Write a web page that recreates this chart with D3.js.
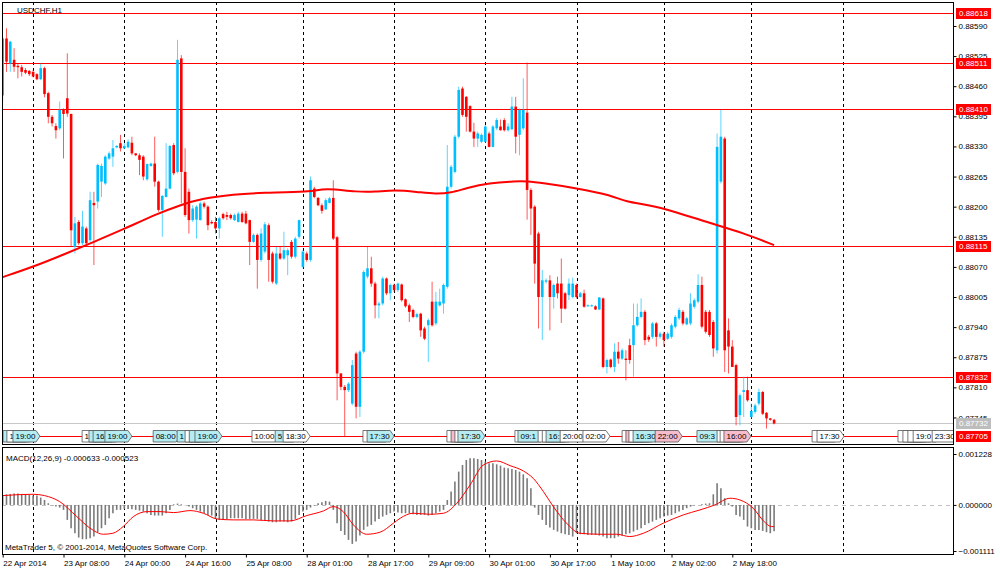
<!DOCTYPE html>
<html>
<head>
<meta charset="utf-8">
<script src="https://cdn.jsdelivr.net/npm/d3@7/dist/d3.min.js"></script>
<style>
	body { margin: 0; background: #fff; }
	svg text { font-family: "Liberation Sans", Arial, sans-serif; font-size: 8px; fill: #000; }
	line.level, line.grid, line.bid { shape-rendering: crispEdges; }
</style>
</head>
<body>
<svg id="chart" width="1000" height="574"></svg>
<script>

var symbolTitle = "USDCHF,H1";
var macdTitle = "MACD(12,26,9) -0.000633 -0.000523";
var copyright = "MetaTrader 5, \u00a9 2001-2014, MetaQuotes Software Corp.";

// hourly bars, one entry per bar (bar 0 = 22 Apr 16:00)
var opens = [
	0.88440,0.88563,0.88509,0.88517,0.88504,0.88501,0.88495,0.88493,0.88491,0.88486,
	0.88475,0.88499,0.88445,0.88394,0.88374,0.88369,0.88409,0.88434,0.88400,0.88113,
	0.88167,0.88121,0.88153,0.88128,0.88208,0.88211,0.88254,0.88250,0.88304,0.88308,
	0.88328,0.88337,0.88326,0.88328,0.88338,0.88315,0.88311,0.88308,0.88259,0.88288,
	0.88293,0.88254,0.88193,0.88221,0.88239,0.88333,0.88275,0.88520,0.88275,0.88232,
	0.88171,0.88172,0.88171,0.88207,0.88200,0.88167,0.88167,0.88153,0.88184,0.88182,
	0.88182,0.88171,0.88167,0.88185,0.88185,0.88171,0.88124,0.88139,0.88085,0.88103,
	0.88160,0.88099,0.88034,0.88099,0.88088,0.88095,0.88124,0.88092,0.88135,0.88070,
	0.88099,0.88085,0.88239,0.88219,0.88203,0.88194,0.88208,0.88219,0.88134,0.87840,
	0.87811,0.87804,0.87775,0.87883,0.87768,0.87887,0.88049,0.88067,0.88034,0.87987,
	0.87991,0.88045,0.88013,0.88031,0.88020,0.88032,0.88000,0.87987,0.87977,0.87962,
	0.87969,0.87937,0.87944,0.87995,0.87948,0.87987,0.87991,0.88027,0.88243,0.88275,
	0.88351,0.88455,0.88437,0.88417,0.88362,0.88347,0.88340,0.88340,0.88358,0.88329,
	0.88369,0.88373,0.88387,0.88365,0.88367,0.88416,0.88355,0.88369,0.88403,0.88236,
	0.88200,0.88142,0.88005,0.88038,0.88041,0.88005,0.88034,0.88034,0.88013,0.88009,
	0.88005,0.88031,0.88005,0.88013,0.87985,0.87985,0.87985,0.87978,0.88002,0.87854,
	0.87870,0.87854,0.87887,0.87872,0.87872,0.87901,0.87901,0.87944,0.87962,0.87973,
	0.87919,0.87919,0.87948,0.87919,0.87926,0.87915,0.87919,0.87941,0.87959,0.87973,
	0.87946,0.87948,0.87984,0.87995,0.88031,0.87973,0.87973,0.87951,0.87890,0.88254,
	0.88347,0.87933,0.87898,0.87858,0.87750,0.87800,0.87804,0.87746,0.87757,0.87775,
	0.87800,0.87755,0.87743,0.87740
];
var highs = [
	0.88567,0.88585,0.88558,0.88542,0.88509,0.88506,0.88499,0.88495,0.88495,0.88488,
	0.88509,0.88502,0.88448,0.88398,0.88380,0.88427,0.88412,0.88531,0.88401,0.88178,
	0.88171,0.88191,0.88157,0.88232,0.88232,0.88293,0.88293,0.88311,0.88319,0.88344,
	0.88333,0.88355,0.88337,0.88345,0.88351,0.88316,0.88315,0.88311,0.88293,0.88295,
	0.88351,0.88256,0.88225,0.88337,0.88333,0.88337,0.88560,0.88527,0.88326,0.88239,
	0.88203,0.88203,0.88211,0.88211,0.88203,0.88171,0.88178,0.88178,0.88187,0.88189,
	0.88185,0.88185,0.88189,0.88189,0.88191,0.88172,0.88142,0.88142,0.88153,0.88167,
	0.88164,0.88103,0.88113,0.88113,0.88146,0.88110,0.88128,0.88135,0.88172,0.88106,
	0.88103,0.88265,0.88243,0.88221,0.88207,0.88218,0.88221,0.88257,0.88137,0.87841,
	0.87815,0.87821,0.87869,0.87887,0.87890,0.88063,0.88113,0.88092,0.88038,0.87995,
	0.88049,0.88047,0.88034,0.88034,0.88036,0.88034,0.88002,0.87991,0.87980,0.87971,
	0.87971,0.87941,0.87959,0.88038,0.88016,0.88023,0.88034,0.88333,0.88290,0.88355,
	0.88459,0.88459,0.88439,0.88419,0.88381,0.88362,0.88358,0.88376,0.88362,0.88376,
	0.88391,0.88388,0.88391,0.88380,0.88437,0.88437,0.88412,0.88477,0.88511,0.88240,
	0.88203,0.88146,0.88063,0.88045,0.88052,0.88034,0.88049,0.88088,0.88016,0.88045,
	0.88047,0.88034,0.88016,0.88021,0.87989,0.87989,0.87987,0.88005,0.88004,0.87872,
	0.87872,0.87905,0.87908,0.87894,0.87890,0.87915,0.87991,0.87991,0.88002,0.87977,
	0.87923,0.87951,0.87951,0.87930,0.87930,0.87930,0.87948,0.87966,0.87982,0.87977,
	0.87962,0.88013,0.88002,0.88054,0.88049,0.87977,0.87977,0.87955,0.88358,0.88409,
	0.88351,0.87959,0.87912,0.87861,0.87797,0.87833,0.87833,0.87775,0.87775,0.87807,
	0.87802,0.87757,0.87744,0.87742
];
var lows = [
	0.88426,0.88491,0.88491,0.88491,0.88477,0.88481,0.88486,0.88482,0.88479,0.88473,
	0.88473,0.88436,0.88380,0.88373,0.88347,0.88365,0.88304,0.88394,0.88113,0.88099,
	0.88117,0.88117,0.88119,0.88124,0.88074,0.88196,0.88221,0.88247,0.88301,0.88286,
	0.88326,0.88319,0.88324,0.88326,0.88311,0.88309,0.88268,0.88257,0.88256,0.88286,
	0.88243,0.88189,0.88135,0.88220,0.88237,0.88268,0.88272,0.88207,0.88178,0.88142,
	0.88167,0.88131,0.88170,0.88196,0.88149,0.88162,0.88142,0.88131,0.88172,0.88171,
	0.88172,0.88169,0.88166,0.88165,0.88162,0.88074,0.88122,0.88023,0.88081,0.88099,
	0.88038,0.88034,0.88031,0.88085,0.88085,0.88052,0.88088,0.88088,0.88131,0.88067,
	0.88081,0.88081,0.88218,0.88201,0.88185,0.88193,0.88207,0.88128,0.87782,0.87804,
	0.87703,0.87800,0.87771,0.87743,0.87746,0.87883,0.88045,0.88027,0.87959,0.87959,
	0.87987,0.88009,0.87998,0.88016,0.88016,0.87995,0.87982,0.87951,0.87959,0.87959,
	0.87919,0.87912,0.87865,0.87941,0.87944,0.87984,0.87969,0.88023,0.88239,0.88272,
	0.88347,0.88394,0.88362,0.88360,0.88329,0.88329,0.88337,0.88338,0.88328,0.88328,
	0.88365,0.88364,0.88362,0.88362,0.88365,0.88315,0.88311,0.88365,0.88172,0.88139,
	0.88034,0.87937,0.87912,0.88034,0.87933,0.87980,0.88002,0.87949,0.87978,0.87998,
	0.88002,0.88002,0.88004,0.87982,0.87984,0.87984,0.87977,0.87977,0.87851,0.87840,
	0.87851,0.87843,0.87861,0.87869,0.87825,0.87861,0.87833,0.87941,0.87959,0.87901,
	0.87908,0.87915,0.87898,0.87915,0.87898,0.87912,0.87915,0.87937,0.87955,0.87944,
	0.87944,0.87944,0.87980,0.87991,0.87937,0.87926,0.87919,0.87876,0.87883,0.88250,
	0.87843,0.87840,0.87854,0.87728,0.87728,0.87746,0.87779,0.87743,0.87753,0.87771,
	0.87750,0.87721,0.87738,0.87730
];
var closes = [
	0.88563,0.88513,0.88556,0.88502,0.88501,0.88491,0.88489,0.88486,0.88481,0.88475,
	0.88499,0.88443,0.88394,0.88380,0.88365,0.88409,0.88400,0.88401,0.88149,0.88164,
	0.88121,0.88157,0.88121,0.88214,0.88203,0.88290,0.88288,0.88308,0.88315,0.88326,
	0.88331,0.88326,0.88331,0.88340,0.88315,0.88311,0.88301,0.88265,0.88292,0.88293,
	0.88254,0.88193,0.88223,0.88239,0.88331,0.88272,0.88517,0.88275,0.88182,0.88171,
	0.88196,0.88200,0.88207,0.88200,0.88160,0.88164,0.88153,0.88175,0.88175,0.88178,
	0.88175,0.88182,0.88185,0.88167,0.88164,0.88124,0.88139,0.88085,0.88142,0.88162,
	0.88085,0.88038,0.88099,0.88088,0.88106,0.88106,0.88092,0.88131,0.88171,0.88103,
	0.88085,0.88257,0.88221,0.88203,0.88191,0.88214,0.88218,0.88131,0.87840,0.87811,
	0.87804,0.87818,0.87858,0.87768,0.87887,0.88059,0.88067,0.88034,0.87987,0.87991,
	0.88045,0.88013,0.88031,0.88020,0.88034,0.87998,0.87985,0.87973,0.87962,0.87968,
	0.87933,0.87915,0.87955,0.87944,0.87995,0.87995,0.88031,0.88243,0.88286,0.88351,
	0.88452,0.88398,0.88394,0.88362,0.88347,0.88358,0.88355,0.88373,0.88329,0.88373,
	0.88387,0.88365,0.88365,0.88373,0.88416,0.88351,0.88409,0.88409,0.88236,0.88196,
	0.88077,0.88005,0.88041,0.88041,0.88005,0.88031,0.88013,0.87980,0.87980,0.88034,
	0.88034,0.88005,0.88013,0.87984,0.87987,0.87987,0.87978,0.88004,0.87854,0.87869,
	0.87854,0.87887,0.87872,0.87890,0.87869,0.87869,0.87944,0.87962,0.87973,0.87912,
	0.87913,0.87948,0.87919,0.87926,0.87912,0.87926,0.87944,0.87962,0.87977,0.87948,
	0.87959,0.87991,0.87998,0.88031,0.87941,0.87930,0.87923,0.87894,0.88329,0.88351,
	0.87890,0.87898,0.87854,0.87746,0.87793,0.87804,0.87782,0.87759,0.87771,0.87800,
	0.87753,0.87743,0.87740,0.87732
];

// moving average
var maBars = [0, 8, 17, 24, 32, 41, 47, 52, 61, 68, 81, 84, 87, 93, 98, 103, 109, 114, 118, 122,
	128, 135, 138, 142, 151, 160, 164, 170, 177, 186, 195, 203];
var maValues = [0.88048, 0.88070, 0.88100, 0.88124, 0.88152, 0.88186, 0.88204, 0.88217, 0.88227, 0.88230,
	0.88232, 0.88238, 0.88238, 0.88232, 0.88232, 0.88236, 0.88232, 0.88227, 0.88230, 0.88240,
	0.88251, 0.88255, 0.88255, 0.88251, 0.88240, 0.88225, 0.88210, 0.88204, 0.88189, 0.88165,
	0.88143, 0.88117];

var macdMain = [
	0.000240,0.000257,0.000265,0.000273,0.000273,0.000265,0.000257,0.000240,0.000225,0.000225,
	0.000177,0.000120,0.000040,-0.000005,-0.000040,-0.000064,-0.000120,-0.000361,-0.000562,-0.000683,
	-0.000787,-0.000827,-0.000827,-0.000803,-0.000763,-0.000658,-0.000562,-0.000482,-0.000321,-0.000200,
	-0.000120,-0.000120,-0.000096,-0.000096,-0.000104,-0.000120,-0.000137,-0.000161,-0.000200,-0.000241,
	-0.000257,-0.000257,-0.000257,-0.000200,-0.000120,0.000016,0.000032,0.000016,-0.000005,-0.000040,
	-0.000080,-0.000120,-0.000161,-0.000200,-0.000241,-0.000257,-0.000337,-0.000361,-0.000361,-0.000337,
	-0.000321,-0.000321,-0.000321,-0.000321,-0.000337,-0.000337,-0.000337,-0.000337,-0.000361,-0.000385,
	-0.000402,-0.000418,-0.000418,-0.000402,-0.000402,-0.000418,-0.000402,-0.000337,-0.000241,-0.000161,
	-0.000120,-0.000064,-0.000016,0.000040,0.000064,0.000096,0.000080,-0.000120,-0.000442,-0.000626,
	-0.000723,-0.000843,-0.000940,-0.000883,-0.000739,-0.000602,-0.000522,-0.000482,-0.000402,-0.000337,
	-0.000281,-0.000241,-0.000200,-0.000161,-0.000180,-0.000200,-0.000200,-0.000200,-0.000225,-0.000241,
	-0.000241,-0.000241,-0.000257,-0.000241,-0.000200,-0.000161,-0.000120,0.000120,0.000321,0.000562,
	0.000803,0.000964,0.001084,0.001124,0.001124,0.001108,0.001084,0.001044,0.001004,0.001004,
	0.000980,0.000948,0.000899,0.000883,0.000867,0.000843,0.000803,0.000739,0.000642,0.000401,
	-0.000064,-0.000241,-0.000361,-0.000482,-0.000546,-0.000602,-0.000642,-0.000683,-0.000707,-0.000723,
	-0.000763,-0.000683,-0.000707,-0.000707,-0.000723,-0.000723,-0.000723,-0.000739,-0.000763,-0.000803,
	-0.000803,-0.000803,-0.000763,-0.000739,-0.000707,-0.000683,-0.000642,-0.000602,-0.000562,-0.000482,
	-0.000442,-0.000402,-0.000361,-0.000321,-0.000281,-0.000257,-0.000241,-0.000200,-0.000161,-0.000120,
	-0.000080,-0.000040,-0.000016,0.000000,0.000016,0.000032,0.000040,0.000257,0.000522,0.000401,
	0.000161,0.000040,-0.000040,-0.000241,-0.000281,-0.000361,-0.000522,-0.000562,-0.000602,-0.000602,
	-0.000626,-0.000658,-0.000683,-0.000633
];
var signalBars = [0, 8, 11, 15, 19.5, 23, 26.5, 29, 31.7, 34.4, 38, 41.4, 45, 49.3, 52.8, 56.3, 60.7, 66,
	71.2, 75.6, 80, 84.4, 87, 89.6, 92.3, 95.8, 99.3, 102.8, 104.6, 108, 112.4, 116, 119.5, 123, 126.5,
	130, 133.5, 137, 139.6, 142.3, 144.9, 148.4, 151.9, 157.2, 161.6, 165, 168.6, 173.8, 179.1, 183.5,
	187.4, 191.4, 194, 197.5, 200.2, 202.3, 203];
var signalValues = [0.000225, 0.000257, 0.000225, 0.000080, -0.000281, -0.000562, -0.000707, -0.000683,
	-0.000522, -0.000281, -0.000161, -0.000161, -0.000185, -0.000137, -0.000200, -0.000337, -0.000361,
	-0.000361, -0.000385, -0.000385, -0.000257, -0.000145, -0.000040, -0.000161, -0.000482, -0.000707,
	-0.000658, -0.000442, -0.000321, -0.000200, -0.000225, -0.000200, 0.000040, 0.000482, 0.000964,
	0.001060, 0.000948, 0.000819, 0.000642, 0.000321, -0.000040, -0.000442, -0.000683, -0.000707,
	-0.000707, -0.000763, -0.000683, -0.000442, -0.000241, -0.000120, 0.000000, 0.000161, 0.000120,
	-0.000080, -0.000385, -0.000522, -0.000523];

var levelPrices = [0.88618, 0.88511, 0.88410, 0.88115, 0.87832, 0.87705];
var bidPrice = 0.87732;
var priceTicks = [0.88590, 0.88525, 0.88460, 0.88395, 0.88330, 0.88265, 0.88200, 0.88135,
	0.88070, 0.88005, 0.87940, 0.87875, 0.87810, 0.87745];
var macdTicks = [0.001228, 0, -0.001111];
var timeBars = [0, 16, 32, 48, 64, 80, 96, 112, 128, 144, 160, 176, 192];
var timeLabels = ["22 Apr 2014", "23 Apr 08:00", "24 Apr 00:00", "24 Apr 16:00", "25 Apr 08:00",
	"28 Apr 01:00", "28 Apr 17:00", "29 Apr 09:00", "30 Apr 01:00", "30 Apr 17:00",
	"1 May 10:00", "2 May 02:00", "2 May 18:00"];
var gridBars = [8, 32, 56, 79, 103, 127, 151, 174, 197, 221];

// calendar events along the bottom of the price window
var eventBars = [0.1, 1.1, 2.7, 20.9, 22.7, 23.8, 26.9, 39.6, 45.9, 48, 49.1, 50.6, 65.6, 71.7, 73.8,
	94.8, 95.9, 116.9, 118, 119, 119.8, 134.8, 135.6, 140.9, 142, 143, 146.7, 152.7, 163, 164, 164.8,
	165.9, 171.7, 182.7, 188, 188.8, 189.8, 213, 214.3, 235.6, 236.9, 238.2, 239.6, 244.6];
var eventTexts = ["16:30", "17:00", "19:00", "12:30", "14:00", "16:00", "19:00", "08:00", "13:30",
	"14:00", "15:00", "19:00", "10:00", "5:30", "18:30", "16:30", "17:30", "15:00", "16:00", "16:30",
	"17:30", "08:00", "09:15", "14:00", "15:00", "16:00", "20:00", "02:00", "11:00", "12:00", "13:00",
	"16:30", "22:00", "09:30", "14:30", "15:00", "16:00", "16:00", "17:30", "16:00", "17:00", "18:00",
	"19:00", "23:30"];
var eventKinds = ["c", "w", "c", "w", "c", "c", "c", "c", "c", "w", "c", "c", "w", "c", "w",
	"w", "c", "w", "p", "w", "c", "w", "c", "w", "w", "c", "w", "w", "w", "p", "w",
	"c", "p", "c", "w", "w", "p", "w", "w", "w", "w", "w", "w", "w"];

var bullColor = "#00bfff";
var bearColor = "#ff0000";
var eventFill = { c: "#b4ecf2", w: "#ffffff", p: "#f7bccb" };

var main = { left: 2, right: 953, top: 2, bottom: 444 };
var sub = { top: 447, bottom: 554 };

var svg = d3.select("#chart");

var x = d3.scaleLinear().domain([0, 203]).range([2.7, 2.7 + 203 * 3.8]);
var y = d3.scaleLinear().domain([0.87705, 0.88618]).range([436, 13]);
var ym = d3.scaleLinear().domain([-0.001111, 0.001228]).range([551, 454]);

var defs = svg.append("defs");
defs.append("clipPath").attr("id", "clipMain")
	.append("rect")
	.attr("x", main.left).attr("y", main.top)
	.attr("width", main.right - main.left).attr("height", main.bottom - main.top);
defs.append("clipPath").attr("id", "clipSub")
	.append("rect")
	.attr("x", main.left).attr("y", sub.top)
	.attr("width", main.right - main.left).attr("height", sub.bottom - sub.top);

var eventPoints = function(x0, w) {
	var top = 430.5, bot = 442, t = 4;
	return [
		[x0, top], [x0 + w - t, top], [x0 + w, (top + bot) / 2],
		[x0 + w - t, bot], [x0, bot]
	].map(function(p) { return p.join(","); }).join(" ");
};

var drawGrid = function(g, y0, y1) {
	g.selectAll("line.grid")
		.data(gridBars)
		.enter().append("line")
		.attr("class", "grid")
		.attr("x1", function(d) { return Math.round(x(d)) + 0.5; })
		.attr("x2", function(d) { return Math.round(x(d)) + 0.5; })
		.attr("y1", y0).attr("y2", y1)
		.attr("stroke", "#000")
		.attr("stroke-dasharray", "3,3");
};

// ---- price window
var pg = svg.append("g").attr("clip-path", "url(#clipMain)");
drawGrid(pg, main.top, main.bottom);

pg.append("line")
	.attr("class", "bid")
	.attr("x1", main.left).attr("x2", main.right)
	.attr("y1", Math.round(y(bidPrice)) + 0.5).attr("y2", Math.round(y(bidPrice)) + 0.5)
	.attr("stroke", "#c8c8c8");

pg.selectAll("line.level")
	.data(levelPrices)
	.enter().append("line")
	.attr("class", "level")
	.attr("x1", main.left).attr("x2", main.right)
	.attr("y1", function(d) { return Math.round(y(d)) + 0.5; })
	.attr("y2", function(d) { return Math.round(y(d)) + 0.5; })
	.attr("stroke", "#ff0000")
	.attr("stroke-width", 1.2);

var bars = d3.range(opens.length).map(function(i) {
	return { i: i, o: opens[i], h: highs[i], l: lows[i], c: closes[i], up: closes[i] >= opens[i] };
});

var candle = pg.selectAll("g.candle")
	.data(bars)
	.enter().append("g")
	.attr("class", "candle");

candle.append("line")
	.attr("x1", function(d) { return x(d.i); })
	.attr("x2", function(d) { return x(d.i); })
	.attr("y1", function(d) { return y(d.h); })
	.attr("y2", function(d) { return y(d.l); })
	.attr("stroke", function(d) { return d.up ? bullColor : bearColor; })
	.attr("stroke-opacity", 0.65)
	.attr("stroke-width", 1);

candle.append("rect")
	.attr("x", function(d) { return x(d.i) - 1.3; })
	.attr("width", 2.6)
	.attr("y", function(d) { return y(Math.max(d.o, d.c)); })
	.attr("height", function(d) { return Math.max(1, Math.abs(y(d.o) - y(d.c))); })
	.attr("fill", function(d) { return d.up ? bullColor : bearColor; });

pg.append("path")
	.datum(maBars.map(function(b, i) { return [b, maValues[i]]; }))
	.attr("fill", "none")
	.attr("stroke", "#ff0000")
	.attr("stroke-width", 2)
	.attr("d", d3.line()
		.x(function(d) { return x(d[0]); })
		.y(function(d) { return y(d[1]); })
		.curve(d3.curveBasis));

// each marker hides the tail of the one before it, so only the leading characters that fit are kept
var ev = pg.selectAll("g.event")
	.data(eventBars)
	.enter().append("g")
	.attr("class", "event");

ev.append("polygon");
ev.append("text")
	.attr("x", function(d) { return x(d) + 2.5; })
	.attr("y", 436.5)
	.attr("dy", "0.35em");
ev.each(function(d, i) {
	var g = d3.select(this);
	var t = g.select("text");
	var full = eventTexts[i];
	var room = i < eventBars.length - 1 ? x(eventBars[i + 1]) - x(d) - 1.5 : Infinity;
	var s = full;
	t.text(s);
	while (s.length && t.node().getComputedTextLength() > room) {
		s = s.slice(0, -1);
		t.text(s);
	}
	t.text(full);
	var w = t.node().getComputedTextLength() + 7;
	t.text(s);
	g.select("polygon")
		.attr("points", eventPoints(x(d), w))
		.attr("fill", eventFill[eventKinds[i]])
		.attr("stroke", "#555")
		.attr("stroke-width", 0.8);
});

svg.append("text")
	.attr("x", 17).attr("y", 10).attr("dy", "0.35em")
	.text(symbolTitle);

svg.append("rect")
	.attr("x", main.left + 0.5).attr("y", main.top + 0.5)
	.attr("width", main.right - main.left).attr("height", main.bottom - main.top)
	.attr("fill", "none").attr("stroke", "#000");

// price axis
var yAxis = svg.append("g")
	.attr("transform", "translate(" + (main.right + 0.5) + ",0)")
	.call(d3.axisRight(y).tickValues(priceTicks).tickSize(3).tickPadding(2)
		.tickFormat(d3.format(".5f")));
yAxis.select(".domain").remove();
yAxis.selectAll("text").attr("font-size", 8).attr("font-family", "Liberation Sans, Arial, sans-serif");

var tag = svg.selectAll("g.tag")
	.data(levelPrices.map(function(p) { return { p: p, fill: "#ff0000" }; })
		.concat([{ p: bidPrice, fill: "#bdbdbd" }]))
	.enter().append("g")
	.attr("class", "tag");
tag.append("rect")
	.attr("x", 956).attr("width", 35)
	.attr("y", function(d) { return Math.round(y(d.p)) - 5; })
	.attr("height", 11)
	.attr("fill", function(d) { return d.fill; });
tag.append("text")
	.attr("x", 959)
	.attr("y", function(d) { return Math.round(y(d.p)) + 0.5; })
	.attr("dy", "0.35em")
	.style("fill", "#fff")
	.text(function(d) { return d3.format(".5f")(d.p); });

// ---- MACD window
var sg = svg.append("g").attr("clip-path", "url(#clipSub)");
drawGrid(sg, sub.top, sub.bottom);

sg.append("line")
	.attr("class", "bid")
	.attr("x1", main.left).attr("x2", main.right)
	.attr("y1", Math.round(ym(0)) + 0.5).attr("y2", Math.round(ym(0)) + 0.5)
	.attr("stroke", "#c0c0c0")
	.attr("stroke-dasharray", "4,4");

sg.selectAll("line.hist")
	.data(macdMain)
	.enter().append("line")
	.attr("class", "hist")
	.attr("x1", function(d, i) { return x(i); })
	.attr("x2", function(d, i) { return x(i); })
	.attr("y1", ym(0))
	.attr("y2", function(d) { return ym(d); })
	.attr("stroke", "#7a7a7a")
	.attr("stroke-width", 1.6);

sg.append("path")
	.datum(signalBars.map(function(b, i) { return [b, signalValues[i]]; }))
	.attr("fill", "none")
	.attr("stroke", "#ff0000")
	.attr("stroke-width", 1)
	.attr("d", d3.line()
		.x(function(d) { return x(d[0]); })
		.y(function(d) { return ym(d[1]); })
		.curve(d3.curveMonotoneX));

svg.append("text")
	.attr("x", 6).attr("y", 458).attr("dy", "0.35em")
	.text(macdTitle);
svg.append("text")
	.attr("x", 5).attr("y", 547).attr("dy", "0.35em")
	.text(copyright);

svg.append("rect")
	.attr("x", main.left + 0.5).attr("y", sub.top + 0.5)
	.attr("width", main.right - main.left).attr("height", sub.bottom - sub.top)
	.attr("fill", "none").attr("stroke", "#000");

var mAxis = svg.append("g")
	.attr("transform", "translate(" + (main.right + 0.5) + ",0)")
	.call(d3.axisRight(ym).tickValues(macdTicks).tickSize(3).tickPadding(2)
		.tickFormat(d3.format(".6f")));
mAxis.select(".domain").remove();
mAxis.selectAll("text").attr("font-size", 8).attr("font-family", "Liberation Sans, Arial, sans-serif");

// time axis
var tAxis = svg.append("g")
	.attr("transform", "translate(0," + (sub.bottom + 0.5) + ")")
	.call(d3.axisBottom(x).tickValues(timeBars).tickSize(3).tickPadding(3)
		.tickFormat(function(d, i) { return timeLabels[i]; }));
tAxis.select(".domain").remove();
tAxis.selectAll("text")
	.attr("text-anchor", "start")
	.attr("font-size", 8).attr("font-family", "Liberation Sans, Arial, sans-serif");

</script>
</body>
</html>
